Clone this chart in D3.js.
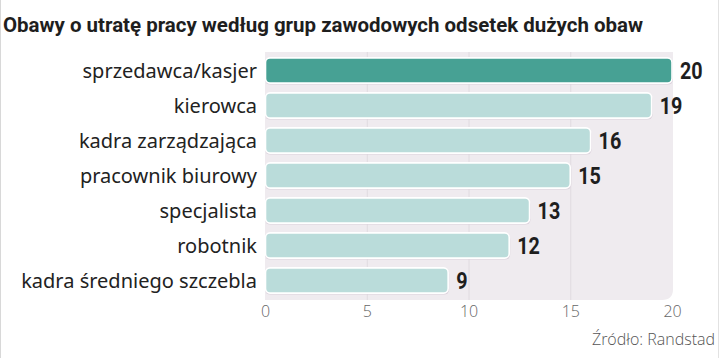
<!DOCTYPE html>
<html><head><meta charset="utf-8">
<script src="https://cdn.jsdelivr.net/npm/d3@7"></script>
<style>
html,body{margin:0;padding:0;background:#fff;}
svg{display:block;}
</style></head>
<body>
<script>
const title = "Obawy o utratę pracy według grup zawodowych odsetek dużych obaw";
const categories = ["sprzedawca/kasjer","kierowca","kadra zarządzająca","pracownik biurowy","specjalista","robotnik","kadra średniego szczebla"];
const values = [20,19,16,15,13,12,9];
const tickValues = [0,5,10,15,20];
const source = "Źródło: Randstad";

const W = 720, H = 358;
const svg = d3.select("body").append("svg").attr("width", W).attr("height", H);

// outer frame lines
svg.append("line").attr("x1",0.5).attr("x2",0.5).attr("y1",0).attr("y2",H).attr("stroke","#d8d8d8");
svg.append("line").attr("x1",718.5).attr("x2",718.5).attr("y1",0).attr("y2",H).attr("stroke","#e2e2e2");

svg.append("text").attr("x",3).attr("y",32)
  .attr("font-family","Roboto, 'Noto Sans', sans-serif").attr("font-weight","bold")
  .attr("font-size",21).attr("fill","#1e1e1e")
  .attr("textLength",640).attr("lengthAdjust","spacingAndGlyphs")
  .text(title);

const x = d3.scaleLinear().domain([0,20]).range([265,672]);
const y = d3.scaleBand().domain(categories).range([53,298]).paddingInner(0.28).paddingOuter(0.14);

// plot background with rounded bottom-right corner
const bx0 = 265, bx1 = 673, by0 = 52, by1 = 300, r = 11;
svg.append("path")
  .attr("d", `M${bx0},${by0} H${bx1} V${by1-r} Q${bx1},${by1} ${bx1-r},${by1} H${bx0} Z`)
  .attr("fill","#efebef");

// gridlines
svg.append("g").selectAll("line").data(tickValues.filter(d=>d>0 && d<20)).join("line")
  .attr("x1",d=>x(d)+0.5).attr("x2",d=>x(d)+0.5).attr("y1",by0).attr("y2",by1)
  .attr("stroke","#e0dbe0").attr("stroke-width",1);

// shadows
svg.append("g").selectAll("rect").data(values).join("rect")
  .attr("x",x(0)).attr("y",(d,i)=>y(categories[i])+1.5)
  .attr("width",d=>x(d)-x(0)+1).attr("height",y.bandwidth())
  .attr("rx",5).attr("fill","#dcd2dc");

// bars
svg.append("g").selectAll("rect").data(values).join("rect")
  .attr("x",x(0)+0.5).attr("y",(d,i)=>y(categories[i]))
  .attr("width",d=>x(d)-x(0)-0.5).attr("height",y.bandwidth())
  .attr("rx",4.5)
  .attr("fill",(d,i)=>i===0?"#47a194":"#badcda")
  .attr("stroke","#ffffff").attr("stroke-width",1.6);

// category labels
svg.append("g").selectAll("text").data(categories).join("text")
  .attr("x",257).attr("y",d=>y(d)+y.bandwidth()/2)
  .attr("dy","0.36em").attr("text-anchor","end")
  .attr("font-family","'Noto Sans', sans-serif").attr("font-size",20)
  .attr("fill","#222").text(d=>d);

// value labels
svg.append("g").selectAll("text").data(values).join("text")
  .attr("transform",(d,i)=>`translate(${x(d)+8},${y(categories[i])+y.bandwidth()/2}) scale(0.86,1)`)
  .attr("dy","0.37em")
  .attr("font-family","Roboto, sans-serif").attr("font-weight","bold").attr("font-size",23)
  .attr("fill","#1e1e1e").text(d=>d);

// x axis
const ax = svg.append("g").attr("transform",`translate(0,${by1})`)
  .call(d3.axisBottom(x).tickValues(tickValues).tickSize(0).tickPadding(6).tickFormat(d3.format("d")));
ax.select(".domain").remove();
ax.selectAll("text").attr("font-family","'Open Sans', sans-serif").attr("font-weight",300)
  .attr("font-size",16).attr("fill","#666");

svg.append("text").attr("x",715).attr("y",345).attr("text-anchor","end")
  .attr("font-family","'Open Sans', sans-serif").attr("font-weight",300)
  .attr("font-size",16).attr("fill","#555").text(source);
</script>
</body></html>
